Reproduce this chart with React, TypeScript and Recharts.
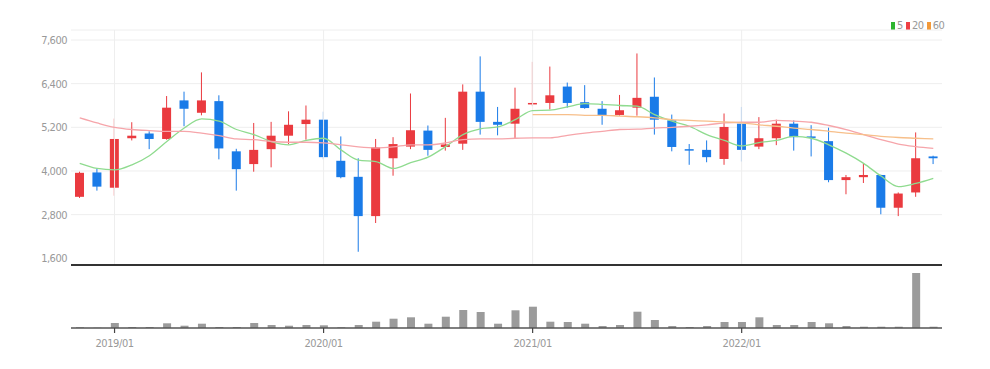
import { ComposedChart, BarChart, Bar, Line, XAxis, YAxis, CartesianGrid, ReferenceLine } from "recharts";

const months = [
  "2018/11", "2018/12",
  "2019/01", "2019/02", "2019/03", "2019/04", "2019/05", "2019/06",
  "2019/07", "2019/08", "2019/09", "2019/10", "2019/11", "2019/12",
  "2020/01", "2020/02", "2020/03", "2020/04", "2020/05", "2020/06",
  "2020/07", "2020/08", "2020/09", "2020/10", "2020/11", "2020/12",
  "2021/01", "2021/02", "2021/03", "2021/04", "2021/05", "2021/06",
  "2021/07", "2021/08", "2021/09", "2021/10", "2021/11", "2021/12",
  "2022/01", "2022/02", "2022/03", "2022/04", "2022/05", "2022/06",
  "2022/07", "2022/08", "2022/09", "2022/10", "2022/11", "2022/12",
];
const yearStarts = ["2019/01", "2020/01", "2021/01", "2022/01"];

const opens = [
  3290, 3960, 3540, 4900, 5030, 4880, 5940, 5600, 5920, 4540,
  4190, 4600, 4970, 5290, 5410, 4280, 3840, 2760, 4350, 4670,
  5110, 4660, 4750, 6180, 5350, 5300, 5830, 5870, 6320, 5890,
  5710, 5540, 5740, 6040, 5390, 4600, 4580, 4330, 5300, 4670,
  4900, 5300, 4950, 4820, 3750, 3830, 3890, 2990, 3410, 4400,
];
const highs = [
  3980, 4060, 5440, 5340, 5090, 6060, 6180, 6710, 6080, 4610,
  5320, 5350, 5640, 5800, 5630, 4950, 4350, 4880, 4930, 6130,
  5250, 5460, 6380, 7150, 5760, 6290, 7000, 6870, 6430, 6360,
  5920, 6090, 7230, 6570, 5550, 4740, 4840, 5580, 5760, 5480,
  5410, 5390, 5260, 5190, 3890, 4210, 3900, 3410, 5060, 4420,
];
const lows = [
  3260, 3460, 3320, 4840, 4600, 4860, 5230, 5530, 4320, 3460,
  3980, 4100, 4740, 4860, 4320, 3800, 1780, 2570, 3870, 4600,
  4420, 4560, 4580, 5000, 4980, 4880, 5780, 5690, 5740, 5710,
  5270, 5520, 5520, 5000, 4540, 4170, 4240, 4170, 4260, 4600,
  4710, 4560, 4400, 3690, 3360, 3670, 2810, 2760, 3290, 4190,
];
const closes = [
  3950, 3570, 4880, 4970, 4880, 5740, 5710, 5940, 4620, 4050,
  4580, 4970, 5270, 5410, 4380, 3830, 2760, 4650, 4740, 5120,
  4580, 4730, 6180, 5350, 5270, 5710, 5870, 6080, 5870, 5730,
  5540, 5670, 6010, 5410, 4660, 4570, 4380, 5210, 4580, 4900,
  5300, 4930, 4910, 3750, 3830, 3890, 2990, 3380, 4350, 4350,
];
const ma5 = [
  4210, 4070, 4030, 4170, 4420, 4810, 5180, 5430, 5370, 5140,
  5000, 4810, 4720, 4840, 4900, 4580, 4300, 4260, 4070, 4230,
  4380, 4670, 5000, 5160, 5210, 5410, 5660, 5670, 5760, 5850,
  5830, 5800, 5780, 5550, 5370, 5230, 5000, 4840, 4690, 4780,
  4840, 4950, 4900, 4720, 4490, 4210, 3860, 3570, 3660, 3800,
];
const ma20 = [
  5460, 5320, 5200, 5140, 5110, 5090, 5090, 5040, 4970, 4880,
  4860, 4810, 4790, 4790, 4770, 4720, 4660, 4630, 4660, 4720,
  4720, 4770, 4860, 4880, 4880, 4900, 4910, 4910, 4980, 5040,
  5090, 5140, 5150, 5180, 5200, 5230, 5270, 5320, 5340, 5340,
  5390, 5370, 5340, 5250, 5140, 5000, 4860, 4740, 4670, 4620,
];
const ma60 = [
  null, null, null, null, null, null, null, null, null, null,
  null, null, null, null, null, null, null, null, null, null,
  null, null, null, null, null, null, 5550, 5550, 5550, 5530,
  5530, 5510, 5490, 5460, 5410, 5390, 5370, 5350, 5320, 5270,
  5230, 5180, 5140, 5090, 5040, 5000, 4950, 4920, 4900, 4880,
];
const volumes = [
  7000, 3000, 50000, 10000, 10000, 47000, 23000, 43000, 10000, 10000,
  50000, 30000, 23000, 30000, 27000, 7000, 30000, 63000, 93000, 107000,
  43000, 113000, 180000, 160000, 43000, 177000, 213000, 63000, 60000, 43000,
  20000, 30000, 163000, 80000, 20000, 10000, 20000, 60000, 60000, 107000,
  30000, 30000, 60000, 47000, 20000, 13000, 13000, 13000, 550000, 13000,
];

const priceTicks = [1600, 2800, 4000, 5200, 6400, 7600];

const UP = "#ea3a3f";
const DOWN = "#1a7be8";
const FONT = "'Liberation Sans Narrow', 'DejaVu Sans Condensed', 'Roboto', sans-serif";

const rows = months.map((date, i) => ({
  date,
  open: opens[i],
  high: highs[i],
  low: lows[i],
  close: closes[i],
  range: [lows[i], highs[i]],
  ma5: ma5[i],
  ma20: ma20[i],
  ma60: ma60[i],
  volume: volumes[i],
}));

function Candle(props: any) {
  const { x, y, width, height, payload } = props;
  if (x == null || y == null) return <g />;
  const top0 = Math.min(y, y + height);
  const h = Math.abs(height);
  const { open, close, high, low } = payload;
  const color = close >= open ? UP : DOWN;
  const span = high - low || 1;
  const toY = (v: number) => top0 + ((high - v) / span) * h;
  const cx = x + width / 2;
  const bt = toY(Math.max(open, close));
  const bb = toY(Math.min(open, close));
  return (
    <g>
      <line x1={cx} x2={cx} y1={top0} y2={top0 + h} stroke={color} strokeWidth={1} />
      <rect x={x} y={bt} width={width} height={Math.max(bb - bt, 1.5)} fill={color} />
    </g>
  );
}

function MonthTick(props: any) {
  const { x, y, payload } = props;
  if (!String(payload.value).endsWith("/01")) return <g />;
  return (
    <g>
      <line x1={x} x2={x} y1={y} y2={y + 5} stroke="#444" strokeWidth={1.2} />
      <text
        x={x}
        y={y + 19}
        textAnchor="middle"
        fill="#999"
        fontSize={11}
        letterSpacing={-0.4}
        fontFamily={FONT}
      >
        {payload.value}
      </text>
    </g>
  );
}

function LegendBox() {
  const items = [
    { label: "5", color: "#2fb52f" },
    { label: "20", color: "#ee3f45" },
    { label: "60", color: "#f29a3a" },
  ];
  return (
    <div
      style={{
        position: "absolute",
        top: 19,
        left: 891,
        display: "flex",
        gap: 3,
        fontFamily: FONT,
        fontSize: 11,
        letterSpacing: -0.4,
        color: "#999",
        lineHeight: "13px",
      }}
    >
      {items.map((it) => (
        <span key={it.label} style={{ display: "flex", alignItems: "center", gap: 2 }}>
          <span style={{ width: 4, height: 8, background: it.color, display: "inline-block" }} />
          {it.label}
        </span>
      ))}
    </div>
  );
}

export default function App() {
  return (
    <div style={{ position: "absolute", left: 0, top: 0, width: 990, height: 369, background: "#fff" }}>
      <LegendBox />
      <ComposedChart width={990} height={267} data={rows} margin={{ top: 30, right: 48, left: 11, bottom: 0 }}>
        <CartesianGrid vertical={false} stroke="#eeeeee" />
        {yearStarts.map((m) => (
          <ReferenceLine key={m} x={m} stroke="#eeeeee" />
        ))}
        <XAxis
          dataKey="date"
          tick={false}
          tickLine={false}
          height={2}
          axisLine={{ stroke: "#333", strokeWidth: 2 }}
        />
        <YAxis
          domain={[1416, 7875]}
          allowDataOverflow
          ticks={priceTicks}
          width={60}
          axisLine={false}
          tickLine={false}
          tickSize={0}
          tickMargin={4}
          tick={{ fill: "#999", fontSize: 11, fontFamily: FONT, letterSpacing: -0.5 }}
          tickFormatter={(v: number) => v.toLocaleString("en-US")}
        />
        <Bar dataKey="range" shape={<Candle />} barSize={9} isAnimationActive={false} />
        <Line type="monotone" dataKey="ma5" stroke="#8fdb8f" strokeWidth={1.3} dot={false} isAnimationActive={false} />
        <Line type="monotone" dataKey="ma20" stroke="#f6a5aa" strokeWidth={1.3} dot={false} isAnimationActive={false} />
        <Line type="monotone" dataKey="ma60" stroke="#f7bf8a" strokeWidth={1.3} dot={false} isAnimationActive={false} />
      </ComposedChart>
      <BarChart width={990} height={102} data={rows} margin={{ top: 1, right: 48, left: 71, bottom: 0 }}>
        <XAxis
          dataKey="date"
          interval={0}
          tickLine={false}
          tickSize={0}
          tickMargin={0}
          axisLine={{ stroke: "#555", strokeWidth: 1.5 }}
          tick={<MonthTick />}
          height={41}
        />
        <YAxis hide domain={[0, 600000]} allowDataOverflow />
        <Bar dataKey="volume" fill="#9b9b9b" barSize={8} isAnimationActive={false} />
      </BarChart>
    </div>
  );
}
